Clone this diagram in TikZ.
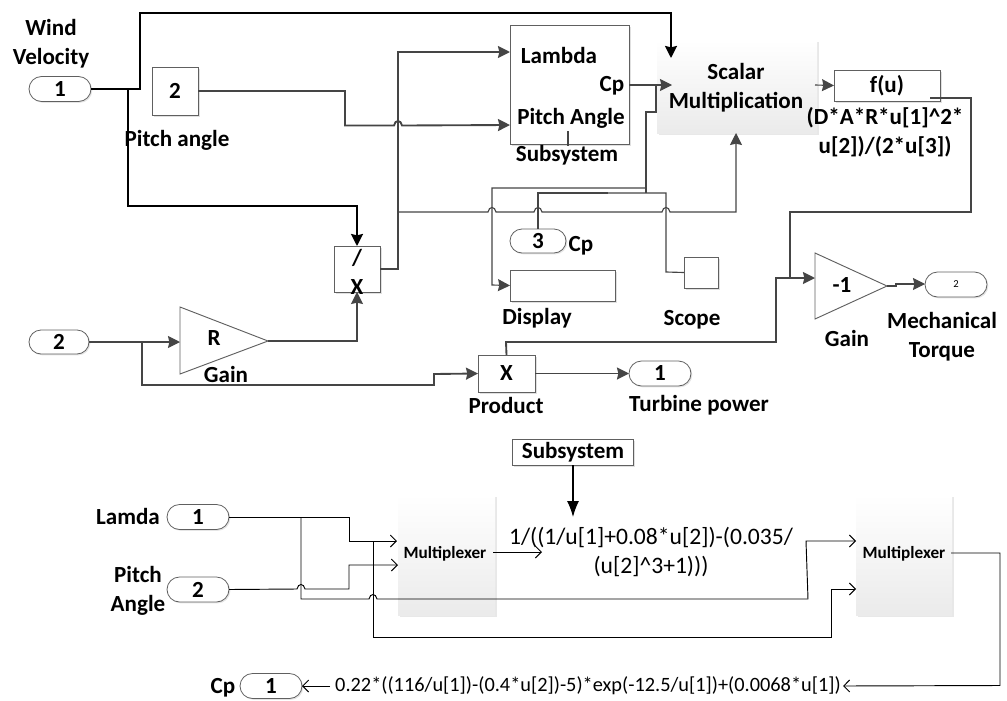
\documentclass[tikz,border=0pt]{standalone}
\usepackage{fontspec}
\setmainfont{Carlito}
\usetikzlibrary{arrows.meta,shapes.misc,shadows}
\definecolor{ln}{HTML}{454545}
\definecolor{bd}{HTML}{606060}
\def\hj#1#2{-- (#1-4,#2) .. controls (#1-3,#2-6) and (#1+3,#2-6) .. (#1+4,#2)}
\tikzset{
  sz/.style 2 args={minimum width=#1*0.75pt,minimum height=#2*0.75pt,inner sep=0pt,outer sep=0pt},
  lab/.style={font=\fontsize{17.3}{21.5}\selectfont\bfseries,inner sep=0pt,align=center},
  blk/.style={draw=bd,line width=0.7pt,copy shadow={draw=none,fill=black!12,shadow xshift=1.2pt,shadow yshift=-1.2pt},fill=white,lab},
  pill/.style={rounded rectangle,draw=bd,line width=0.6pt,lab,copy shadow={draw=none,fill=black!10,shadow xshift=1pt,shadow yshift=-1pt},fill=white},
  grad/.style={draw=none,copy shadow={draw=none,fill=black!9,shadow xshift=1.8pt,shadow yshift=-1.8pt},top color=white,middle color=black!1,bottom color=black!8,lab},
  muxt/.style={font=\fontsize{12.9}{15}\selectfont\bfseries,inner sep=0pt},
  form/.style={inner sep=0pt,align=center},
  wline/.style={draw=black,line width=1.5pt,line join=miter},
  gline/.style={draw=ln,line width=1.4pt},
  tline/.style={draw=ln,line width=0.85pt},
  bline/.style={draw=black,line width=0.7pt},
  tip/.style={-{Stealth[length=9pt,width=9pt,inset=1pt]}},
  otip/.style={-{Straight Barb[length=4.5pt,width=9pt]}},
  ftip/.style={-{Latex[length=12pt,width=9pt]}}
}
\begin{document}
\begin{tikzpicture}[x=0.75pt,y=-0.75pt]
\useasboundingbox (0,0) rectangle (1007,700);
% ---------- upper diagram: blocks
\node[pill,sz={62}{25}] (in1) at (60,89) {1};
\node[blk,sz={46}{48}] (pitch) at (175,91) {2};
\node[blk,sz={46}{46}] (div) at (357,269) {};
\node[pill,sz={60}{24}] (in2) at (59,342) {2};
\node[blk,sz={119}{119}] (sub) at (569.5,84.5) {};
\node[grad,sz={160}{93}] (scalar) at (737,86.5) {};
\node[blk,sz={106}{31}] (fu) at (887,85.5) {f(u)};
\node[pill,sz={56}{24}] (cp3) at (538,241) {};
\node[blk,sz={105}{31}] (disp) at (562.5,285.5) {};
\node[blk,sz={34}{31}] (scope) at (701,272.5) {};
\node[blk,sz={57}{37}] (prod) at (506.5,373.5) {X};
\node[pill,sz={62}{25}] (out1) at (660,373.5) {1};
\node[pill,sz={62}{25}] (out2) at (956,284.5) {\fontsize{8}{9}\selectfont\mdseries 2};
% triangles
\coordinate (rapex) at (268,341);
\coordinate (rin) at (180,342);
\coordinate (gapex) at (887,286);
\coordinate (gin) at (815,278);
\filldraw[draw=bd,fill=white,line width=0.7pt] (180,307) -- (rapex) -- (180,374) -- cycle;
\filldraw[draw=bd,fill=white,line width=0.7pt] (815,253) -- (gapex) -- (815,319) -- cycle;
% ---------- upper diagram: coordinates of ports
\coordinate (subL) at (510,52);
\coordinate (subP) at (510,125);
\coordinate (subC) at (629,85);
\coordinate (scW) at (671,58);
\coordinate (scC) at (672,85);
\coordinate (scB) at (736,133);
\coordinate (scR) at (815,85);
\coordinate (fuB) at (930,98);
\coordinate (gout) at (925,284);
% ---------- upper diagram: connectors
\draw[wline,tip] (in1.east) -- (140,89) -- (140,13) -- (671,13) -- (scW);
\draw[wline,tip] (128,89) -- (128,206) -- (357,206) -- (div.north);
\draw[gline,tip] (pitch.east) -- (345,91) -- (345,125.5) \hj{398}{125.5} -- (subP);
\draw[gline,tip] (div.east) -- (398,269) -- (398,52) -- (subL);
\draw[tline,tip] (398,212) \hj{492}{212} \hj{538}{212} \hj{666}{212} -- (736,212) -- (scB);
\draw[tline,tip] (subC) -- (scC);
\draw[tline] (656,85) -- (656,112) -- (646,112) -- (646,193);
\draw[tline,tip] (646,188) -- (492,188) -- (492,285) -- (disp.west);
\draw[tline] (608,193) -- (538,193) -- (cp3.north);
\draw[tline] (608,193) -- (666,193) -- (666,272) -- (scope.west);
\draw[tline] (568,131) -- (568,146);
\draw[tline,tip] (scR) -- (fu.west);
\draw[line width=1.8pt,draw=ln] (fuB) -- (971,98) -- (971,212) -- (790,212) -- (790,278);
\draw[gline,tip] (prod.north) -- (506,342) -- (776,342) -- (776,278) -- (gin);
\draw[tline,tip] (in2.east) -- (rin);
\draw[gline] (115,342) -- (142,342);
\draw[gline,tip] (142,342) -- (142,385) -- (434,385) -- (434,374) -- (prod.west);
\draw[line width=1.1pt,draw=ln,tip] (rapex) -- (357,341) -- (div.south);
\draw[gline,tip] (prod.east) -- (out1.west);
\draw[tline,tip] (gapex) -- (896,286) -- (896,284) -- (gout);
% ---------- upper diagram: texts
\node[lab] (tw) at (51,44) {Wind\\Velocity};
\node[lab] (tpa) at (177,140) {Pitch angle};
\node[lab] (tdiv) at (357,258) {/};
\node[lab] (tx) at (357,287) {X};
\node[lab] (tr) at (214,338) {R};
\node[lab] (tg1) at (226,374) {Gain};
\node[lab] (tlam) at (559,55) {Lambda};
\node[lab] (tcp) at (612,86) {Cp};
\node[lab] (tpit) at (571,118) {Pitch Angle};
\node[lab] (tsub) at (567,155) {Subsystem};
\node[lab] (tsc) at (736,87.5) {Scalar\\Multiplication};
\node[lab] (tfm) at (885,132.5) {(D*A*R*u[1]\textasciicircum 2*\\u[2])/(2*u[3])};
\node[lab] (t3) at (538,241) {3};
\node[lab] (tcp3) at (581,246) {Cp};
\node[lab] (tdisp) at (537,318) {Display};
\node[lab] (tsco) at (692,320) {Scope};
\node[lab] (tm1) at (842,285) {-1};
\node[lab] (tg2) at (847,338) {Gain};
\node[lab] (tmt) at (942,336.5) {Mechanical\\Torque};
\node[lab] (tpr) at (506,405) {Product};
\node[lab] (ttp) at (699,405) {Turbine power};
% ---------- lower diagram: blocks
\node[blk,sz={121}{26}] (bsub) at (573,452) {Subsystem};
\node[pill,sz={62}{25}] (lam) at (198,517) {1};
\node[pill,sz={62}{25}] (pa) at (198,589.5) {2};
\node[grad,sz={97}{120}] (mux1) at (446.5,555) {};
\node[grad,sz={96}{120}] (mux2) at (904,555) {};
\node[pill,sz={62}{25}] (cpo) at (271,686) {1};
\node[muxt] (tm1x) at (445,554) {Multiplexer};
\node[muxt] (tm2x) at (904,554) {Multiplexer};
\node[form,font=\fontsize{17.7}{21.5}\selectfont] (f1) at (651,552) {1/((1/u[1]+0.08*u[2])-(0.035/\\(u[2]\textasciicircum 3+1)))};
\node[form,font=\fontsize{15.25}{18}\selectfont] (f2) at (588,686) {0.22*((116/u[1])-(0.4*u[2])-5)*exp(-12.5/u[1])+(0.0068*u[1])};
\node[lab] (tl) at (128,516) {Lamda};
\node[lab] (tp2) at (138,591) {Pitch\\Angle};
\node[lab] (tc) at (223,687.5) {Cp};
\coordinate (m1a) at (397,541);
\coordinate (m1b) at (398,565);
\coordinate (m2a) at (856,541);
\coordinate (m2b) at (856,589);
\coordinate (f1in) at (542,552);
\coordinate (m1o) at (493,552);
\coordinate (m2o) at (951,553);
\coordinate (f2r) at (843,686);
\coordinate (f2l) at (330,686);
\coordinate (f1t) at (573,517);
% ---------- lower diagram: connectors
\draw[black,line width=0.9pt,ftip] (bsub.south) -- (f1t);
\draw[bline,otip] (lam.east) -- (349,517) -- (349,541) -- (m1a);
\draw[bline,otip] (pa.east) \hj{301}{589} -- (349,589) -- (349,565) -- (m1b);
\draw[bline,otip] (301,517) -- (301,599) \hj{373}{599} -- (808,599) -- (806,541) -- (m2a);
\draw[bline,otip] (373,541) -- (373,637) -- (831,637) -- (831,589) -- (m2b);
\draw[bline,otip] (m1o) -- (f1in);
\draw[bline,otip] (m2o) -- (1000,553) -- (1000,685.5) -- (f2r);
\draw[bline,otip] (f2l) -- (cpo.east);
\end{tikzpicture}
\end{document}
